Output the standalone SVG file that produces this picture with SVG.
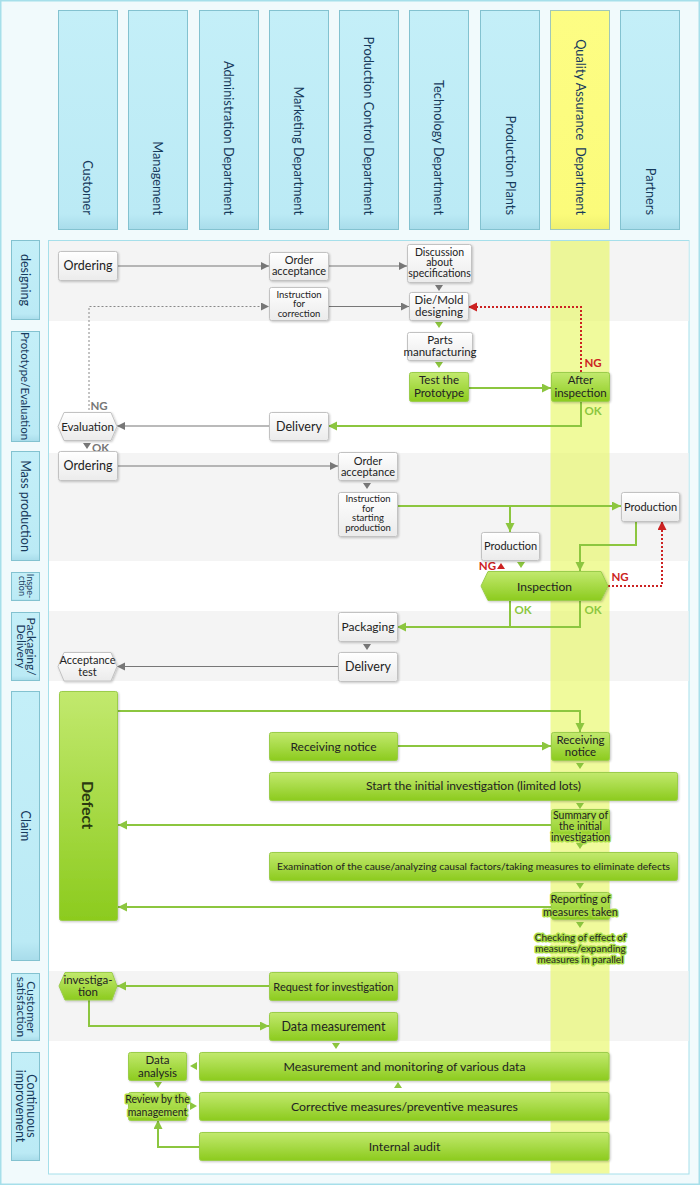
<svg xmlns="http://www.w3.org/2000/svg" width="700" height="1186" viewBox="0 0 700 1186">
<defs>
<style>
.hd{fill:url(#gHead);stroke:#83c2d0;stroke-width:1}
.qa{fill:url(#gYel);stroke:#9fc7b9;stroke-width:1}
.ht{font-family:Lato,"Noto Sans",sans-serif;font-size:12.8px;fill:#173a5c;text-anchor:end}
.rt{font-family:Lato,"Noto Sans",sans-serif;font-size:12.5px;fill:#173a5c;text-anchor:middle}
.n{fill:url(#gGrey);stroke:#c2c2c2;stroke-width:1;filter:url(#sh)}
.g{fill:url(#gGreen);stroke:#9bcd4c;stroke-width:1;filter:url(#sh)}
.t{font-family:Lato,"Noto Sans",sans-serif;fill:#222;text-anchor:middle;font-size:11px}
.halo{stroke:#a9dc45;stroke-width:3px;paint-order:stroke;stroke-linejoin:round}
.cg{stroke:#777;stroke-width:1.2;fill:none}
.cgd{stroke:#888;stroke-width:1;stroke-dasharray:2 2;fill:none}
.cgr{stroke:#8cc63f;stroke-width:2;fill:none}
.cr{stroke:#cc2222;stroke-width:2;stroke-dasharray:2 2;fill:none}
.lab{font-family:Lato,"Noto Sans",sans-serif;font-size:11.5px;font-weight:bold}
</style>
<linearGradient id="gHead" x1="0" y1="0" x2="0" y2="1">
<stop offset="0" stop-color="#c4eff8"/><stop offset="0.93" stop-color="#bbeaf5"/><stop offset="1" stop-color="#a8dcea"/>
</linearGradient>
<linearGradient id="gYel" x1="0" y1="0" x2="0" y2="1">
<stop offset="0" stop-color="#fdfd84"/><stop offset="0.93" stop-color="#fbfb7a"/><stop offset="1" stop-color="#eef070"/>
</linearGradient>
<linearGradient id="gGrey" x1="0" y1="0" x2="0" y2="1">
<stop offset="0" stop-color="#ffffff"/><stop offset="1" stop-color="#ebebeb"/>
</linearGradient>
<linearGradient id="gGreen" x1="0" y1="0" x2="0" y2="1">
<stop offset="0" stop-color="#c2e96e"/><stop offset="1" stop-color="#8ccb1e"/>
</linearGradient>
<filter id="sh" x="-10%" y="-10%" width="130%" height="140%">
<feDropShadow dx="1" dy="1" stdDeviation="0.8" flood-color="#000" flood-opacity="0.22"/>
</filter>
<marker id="aG" markerUnits="userSpaceOnUse" markerWidth="9" markerHeight="9" refX="8" refY="4" orient="auto"><path d="M0,0 L8,4 L0,8 z" fill="#777"/></marker>
<marker id="aN" markerUnits="userSpaceOnUse" markerWidth="10" markerHeight="10" refX="9" refY="4.5" orient="auto"><path d="M0,0 L9,4.5 L0,9 z" fill="#8cc63f"/></marker>
<marker id="aR" markerUnits="userSpaceOnUse" markerWidth="10" markerHeight="10" refX="9" refY="4.5" orient="auto"><path d="M0,0 L9,4.5 L0,9 z" fill="#cc2222"/></marker>
</defs>

<!-- background -->
<rect x="0.75" y="0.75" width="698.5" height="1183.5" fill="#f1fafc" stroke="#a6dfea" stroke-width="1.5"/>

<!-- column headers -->
<g id="headers">
<rect class="hd" x="58.5" y="10.5" width="59" height="219"/>
<text class="ht" transform="translate(87.5,215) rotate(90)" dy="0.35em">Customer</text>
<rect class="hd" x="128.5" y="10.5" width="59" height="219"/>
<text class="ht" transform="translate(157.5,215) rotate(90)" dy="0.35em">Management</text>
<rect class="hd" x="199.5" y="10.5" width="59" height="219"/>
<text class="ht" transform="translate(228.5,215) rotate(90)" dy="0.35em">Administration Department</text>
<rect class="hd" x="269.5" y="10.5" width="59" height="219"/>
<text class="ht" transform="translate(298.5,215) rotate(90)" dy="0.35em">Marketing Department</text>
<rect class="hd" x="339.5" y="10.5" width="59" height="219"/>
<text class="ht" transform="translate(368.5,215) rotate(90)" dy="0.35em">Production Control Department</text>
<rect class="hd" x="409.5" y="10.5" width="59" height="219"/>
<text class="ht" transform="translate(438.5,215) rotate(90)" dy="0.35em">Technology Department</text>
<rect class="hd" x="480.5" y="10.5" width="59" height="219"/>
<text class="ht" transform="translate(510,215) rotate(90)" dy="0.35em">Production Plants</text>
<rect class="qa" x="550.5" y="10.5" width="59" height="219"/>
<text class="ht" transform="translate(580,215) rotate(90)" dy="0.35em" xml:space="preserve">Quality Assurance  Department</text>
<rect class="hd" x="620.5" y="10.5" width="59" height="219"/>
<text class="ht" transform="translate(650,215) rotate(90)" dy="0.35em">Partners</text>
</g>

<!-- main panel -->
<rect x="48.5" y="240.5" width="640.5" height="933.5" fill="#ffffff" stroke="#a6dfea" stroke-width="1"/>
<g id="bands" fill="#f4f4f4">
<rect x="49" y="241" width="639.5" height="80"/>
<rect x="49" y="453" width="639.5" height="108"/>
<rect x="49" y="611" width="639.5" height="70"/>
<rect x="49" y="971" width="639.5" height="70"/>
</g>
<rect x="550.5" y="241" width="59" height="932.5" fill="#e6f75a" fill-opacity="0.6"/>

<!-- row labels -->
<g id="rows">
<rect class="hd" x="11.5" y="240.5" width="28" height="79"/>
<text class="rt" transform="translate(25.5,280) rotate(90)" dy="0.35em">designing</text>
<rect class="hd" x="11.5" y="331.5" width="28" height="110"/>
<text class="rt" transform="translate(25.5,386) rotate(90)" dy="0.35em" style="font-size:11.5px">Prototype/Evaluation</text>
<rect class="hd" x="11.5" y="451.5" width="28" height="109"/>
<text class="rt" transform="translate(25.5,506) rotate(90)" dy="0.35em">Mass production</text>
<rect class="hd" x="11.5" y="572.5" width="28" height="28"/>
<text class="rt" transform="translate(25.5,586) rotate(90)" style="font-size:9px"><tspan x="0" y="-1">Inspe-</tspan><tspan x="0" y="7">ction</tspan></text>
<rect class="hd" x="11.5" y="612.5" width="28" height="68"/>
<text class="rt" transform="translate(25.5,646.5) rotate(90)" style="font-size:12px"><tspan x="0" y="-1.5">Packaging/</tspan><tspan x="0" y="8.5">Delivery</tspan></text>
<rect class="hd" x="11.5" y="691.5" width="28" height="269"/>
<text class="rt" transform="translate(25.5,826) rotate(90)" dy="0.35em">Claim</text>
<rect class="hd" x="11.5" y="973.5" width="28" height="67"/>
<text class="rt" transform="translate(25.5,1007) rotate(90)" style="font-size:12px"><tspan x="0" y="-1.5">Customer</tspan><tspan x="0" y="8.5">satisfaction</tspan></text>
<rect class="hd" x="11.5" y="1052.5" width="28" height="108"/>
<text class="rt" transform="translate(25.5,1106) rotate(90)" style="font-size:12.5px"><tspan x="0" y="-1.5">Continuous</tspan><tspan x="0" y="9.5">improvement</tspan></text>
</g>

<!-- connectors -->
<g id="connectors">
<path class="cg" d="M117,266 H269" marker-end="url(#aG)"/>
<path class="cg" d="M328,266 H407" marker-end="url(#aG)"/>
<path class="cg" d="M328,306.5 H409" marker-end="url(#aG)"/>
<path class="cg" d="M269,426 H117" marker-end="url(#aG)"/>
<path class="cgd" d="M89,410 V306.5 H269" marker-end="url(#aG)"/>
<path class="cg" d="M117,466 H338" marker-end="url(#aG)"/>
<path class="cg" d="M338,666.5 H117" marker-end="url(#aG)"/>
<path class="cgr" d="M468,388 H551" marker-end="url(#aN)"/>
<path class="cgr" d="M581,401 V426 H328" marker-end="url(#aN)"/>
<path class="cgr" d="M397,506 H621" marker-end="url(#aN)"/>
<path class="cgr" d="M510,506 V532" marker-end="url(#aN)"/>
<path class="cgr" d="M636,521 V545 H580 V571" marker-end="url(#aN)"/>
<path class="cgr" d="M510,600 V627"/>
<path class="cgr" d="M580,600 V627 H397" marker-end="url(#aN)"/>
<path class="cgr" d="M118,711 H580 V732" marker-end="url(#aN)"/>
<path class="cgr" d="M398,746 H551" marker-end="url(#aN)"/>
<path class="cgr" d="M551,825 H118" marker-end="url(#aN)"/>
<path class="cgr" d="M551,907 H118" marker-end="url(#aN)"/>
<path class="cgr" d="M269,986 H117" marker-end="url(#aN)"/>
<path class="cgr" d="M89,1000 V1026 H269" marker-end="url(#aN)"/>
<path class="cgr" d="M199,1147 H158 V1120" marker-end="url(#aN)"/>
<path class="cr" d="M581,372 V307 H468" marker-end="url(#aR)"/>
<path class="cr" d="M608,586 H662 V521" marker-end="url(#aR)"/>
<g fill="#777">
<polygon points="435,285 443,285 439,291"/>
<polygon points="363,483 371,483 367,489"/>
<polygon points="363,644 371,644 367,650"/>
<polygon points="83,443 91,443 87,449"/>
</g>
<g fill="#8cc63f">
<polygon points="435,322 443,322 439,328"/>
<polygon points="435,362 443,362 439,368"/>
<polygon points="517,562 525,562 521,568"/>
<polygon points="576,763 584,763 580,769"/>
<polygon points="576,803 584,803 580,809"/>
<polygon points="576,843 584,843 580,849"/>
<polygon points="576,883 584,883 580,889"/>
<polygon points="576,922 584,922 580,928"/>
<polygon points="332,1043 340,1043 336,1049"/>
<polygon points="154,1082 162,1082 158,1088"/>
<polygon points="190,1066 197,1062 197,1070"/>
<polygon points="197,1106 190,1102 190,1110"/>
<polygon points="394,1088 402,1088 398,1082"/>
</g>
<polygon points="497,569 505,569 501,563" fill="#cc2222"/>
<text class="lab" x="593" y="367" fill="#cc2222" text-anchor="middle">NG</text>
<text class="lab" x="593" y="415" fill="#8cc63f" text-anchor="middle">OK</text>
<text class="lab" x="99" y="410" fill="#777" text-anchor="middle">NG</text>
<text class="lab" x="92" y="452" fill="#777">OK</text>
<text class="lab" x="496" y="570" fill="#cc2222" text-anchor="end">NG</text>
<text class="lab" x="620" y="581" fill="#cc2222" text-anchor="middle">NG</text>
<text class="lab" x="523" y="614" fill="#8cc63f" text-anchor="middle">OK</text>
<text class="lab" x="593" y="614" fill="#8cc63f" text-anchor="middle">OK</text>
</g>

<!-- designing -->
<g id="n-ordering1"><rect class="n" x="58.5" y="251.5" width="59" height="29" rx="2"/><text class="t" x="88" y="270" style="font-size:12.5px">Ordering</text></g>
<g id="n-orderacc1"><rect class="n" x="269.5" y="252.5" width="59" height="28" rx="2"/><text class="t" x="299" y="264" style="font-size:11px">Order</text><text class="t" x="299" y="275" style="font-size:11px">acceptance</text></g>
<g id="n-instcorr"><rect class="n" x="269.5" y="287.5" width="59" height="33" rx="2"/><text class="t" style="font-size:9.5px"><tspan x="299" y="297.5">Instruction</tspan><tspan x="299" y="307">for</tspan><tspan x="299" y="316.5">correction</tspan></text></g>
<g id="n-discuss"><rect class="n" x="407.5" y="244.5" width="64" height="38" rx="2"/><text class="t" style="font-size:10.5px"><tspan x="439.5" y="256">Discussion</tspan><tspan x="439.5" y="266">about</tspan><tspan x="439.5" y="276.5">specifications</tspan></text></g>
<g id="n-diemold"><rect class="n" x="409.5" y="292.5" width="59" height="28" rx="2"/><text class="t" style="font-size:11.5px"><tspan x="439" y="304">Die/Mold</tspan><tspan x="439" y="316">designing</tspan></text></g>

<!-- prototype -->
<g id="n-parts"><rect class="n" x="407.5" y="332.5" width="65" height="28" rx="2"/><text class="t" style="font-size:11.5px"><tspan x="440" y="343.5">Parts</tspan><tspan x="440" y="355.5">manufacturing</tspan></text></g>
<g id="n-test"><rect class="g" x="409.5" y="372.5" width="59" height="29" rx="2"/><text class="t" style="font-size:11.5px"><tspan x="439" y="383.5">Test the</tspan><tspan x="439" y="396.5">Prototype</tspan></text></g>
<g id="n-after"><rect class="g" x="551.5" y="372.5" width="58" height="29" rx="2"/><text class="t" style="font-size:11.5px"><tspan x="580.5" y="383.5">After</tspan><tspan x="580.5" y="396.5">inspection</tspan></text></g>
<g id="n-delivery1"><rect class="n" x="269.5" y="412.5" width="59" height="28" rx="2"/><text class="t" x="299" y="430.5" style="font-size:12.5px">Delivery</text></g>
<g id="n-eval"><polygon class="n" points="64,412.5 111,412.5 117,426.5 111,440.5 64,440.5 58,426.5"/><text class="t" x="87.5" y="430.5" style="font-size:11.5px">Evaluation</text></g>

<!-- mass production -->
<g id="n-ordering2"><rect class="n" x="58.5" y="451.5" width="59" height="29" rx="2"/><text class="t" x="88" y="470" style="font-size:12.5px">Ordering</text></g>
<g id="n-orderacc2"><rect class="n" x="338.5" y="452.5" width="59" height="28" rx="2"/><text class="t" style="font-size:11px"><tspan x="368" y="464.5">Order</tspan><tspan x="368" y="475.5">acceptance</tspan></text></g>
<g id="n-inststart"><rect class="n" x="338.5" y="492.5" width="59" height="44" rx="2"/><text class="t" style="font-size:9.5px"><tspan x="368" y="502">Instruction</tspan><tspan x="368" y="511.5">for</tspan><tspan x="368" y="521">starting</tspan><tspan x="368" y="530.5">production</tspan></text></g>
<g id="n-prod1"><rect class="n" x="481.5" y="532.5" width="58" height="28" rx="2"/><text class="t" x="510.5" y="550" style="font-size:11px">Production</text></g>
<g id="n-prod2"><rect class="n" x="621.5" y="492.5" width="58" height="29" rx="2"/><text class="t" x="650.5" y="510.5" style="font-size:11px">Production</text></g>
<g id="n-inspection"><polygon class="g" points="488,571.5 601,571.5 608,586 601,600.5 488,600.5 481,586"/><text class="t" x="544.5" y="590.5" style="font-size:12px">Inspection</text></g>

<!-- packaging / delivery -->
<g id="n-packaging"><rect class="n" x="338.5" y="612.5" width="59" height="29" rx="2"/><text class="t" x="368" y="631" style="font-size:12px">Packaging</text></g>
<g id="n-delivery2"><rect class="n" x="338.5" y="652.5" width="59" height="29" rx="2"/><text class="t" x="368" y="671" style="font-size:12.5px">Delivery</text></g>
<g id="n-accept"><polygon class="n" points="64,652.5 111,652.5 117,666.5 111,681 64,681 58,666.5"/><text class="t" style="font-size:11px"><tspan x="87.5" y="663.5">Acceptance</tspan><tspan x="87.5" y="675.5">test</tspan></text></g>

<!-- claim -->
<g id="n-defect"><rect class="g" x="59.5" y="691.5" width="58" height="229" rx="2"/><text class="t" transform="translate(88,805) rotate(90)" dy="0.35em" style="font-size:16px;font-weight:bold;fill:#2a3a10">Defect</text></g>
<g id="n-recv1"><rect class="g" x="269.5" y="732.5" width="128" height="28" rx="2"/><text class="t" x="333.5" y="750.5" style="font-size:12px">Receiving notice</text></g>
<g id="n-recv2"><rect class="g" x="551.5" y="732.5" width="58" height="28" rx="2"/><text class="t" style="font-size:11.5px"><tspan x="580.5" y="744">Receiving</tspan><tspan x="580.5" y="756">notice</tspan></text></g>
<g id="n-start"><rect class="g" x="269.5" y="772.5" width="408" height="28" rx="2"/><text class="t" x="473.5" y="790" style="font-size:12px">Start the initial investigation (limited lots)</text></g>
<g id="n-summary"><rect class="g" x="551.5" y="809.5" width="58" height="29" rx="2"/><text class="t halo" style="font-size:10.5px"><tspan x="580.5" y="819">Summary of</tspan><tspan x="580.5" y="830">the initial</tspan><tspan x="580.5" y="841">investigation</tspan></text></g>
<g id="n-exam"><rect class="g" x="269.5" y="852.5" width="408" height="28" rx="2"/><text class="t" x="473.5" y="869.5" style="font-size:10.3px">Examination of the cause/analyzing causal factors/taking measures to eliminate defects</text></g>
<g id="n-report"><rect class="g" x="551.5" y="892.5" width="58" height="27" rx="2"/><text class="t halo" style="font-size:11px"><tspan x="580.5" y="903">Reporting of</tspan><tspan x="580.5" y="915.5">measures taken</tspan></text></g>
<g id="n-check"><text class="t halo" style="font-size:10px"><tspan x="580.5" y="941">Checking of effect of</tspan><tspan x="580.5" y="952">measures/expanding</tspan><tspan x="580.5" y="963">measures in parallel</tspan></text></g>

<!-- customer satisfaction -->
<g id="n-investig"><polygon class="g" points="65,972.5 112,972.5 117,986 112,1000 65,1000 59,986"/><text class="t" style="font-size:11.5px"><tspan x="88" y="984">investiga-</tspan><tspan x="88" y="995.5">tion</tspan></text></g>
<g id="n-request"><rect class="g" x="269.5" y="972.5" width="128" height="28" rx="2"/><text class="t" x="333.5" y="990.5" style="font-size:11px">Request for investigation</text></g>
<g id="n-datameas"><rect class="g" x="269.5" y="1012.5" width="128" height="28" rx="2"/><text class="t" x="333.5" y="1030.5" style="font-size:12.5px">Data measurement</text></g>

<!-- continuous improvement -->
<g id="n-analysis"><rect class="g" x="128.5" y="1052.5" width="58" height="28" rx="2"/><text class="t" style="font-size:11.5px"><tspan x="157.5" y="1063.5">Data</tspan><tspan x="157.5" y="1076.5">analysis</tspan></text></g>
<g id="n-monitor"><rect class="g" x="199.5" y="1052.5" width="409.5" height="28" rx="2"/><text class="t" x="404.5" y="1070.5" style="font-size:12.3px">Measurement and monitoring of various data</text></g>
<g id="n-review"><rect class="g" x="128.5" y="1092.5" width="58" height="28" rx="2"/><text class="t halo" style="font-size:10.5px"><tspan x="157.5" y="1103">Review by the</tspan><tspan x="157.5" y="1115.5">management</tspan></text></g>
<g id="n-corrective"><rect class="g" x="199.5" y="1092.5" width="409.5" height="28" rx="2"/><text class="t" x="404.5" y="1110.5" style="font-size:12.3px">Corrective measures/preventive measures</text></g>
<g id="n-audit"><rect class="g" x="199.5" y="1132.5" width="409.5" height="28" rx="2"/><text class="t" x="404.5" y="1150.5" style="font-size:12.3px">Internal audit</text></g>
</svg>
